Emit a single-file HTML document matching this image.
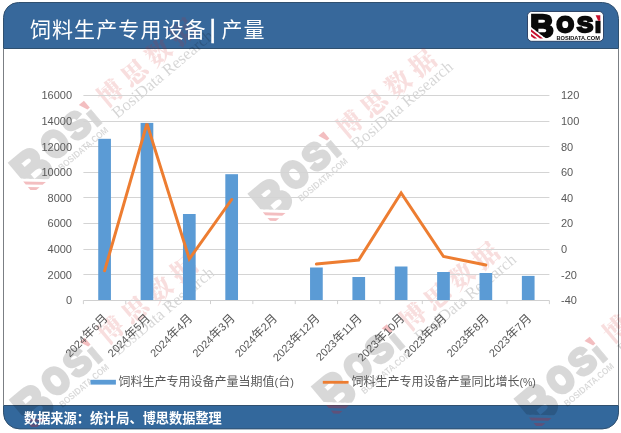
<!DOCTYPE html>
<html lang="zh-CN"><head><meta charset="utf-8"><title>饲料生产专用设备 | 产量</title>
<style>
html,body{margin:0;padding:0;background:#fff;}
body{width:621px;height:433px;overflow:hidden;font-family:"Liberation Sans","Noto Sans CJK SC",sans-serif;}
svg{display:block;}
text{font-family:"Liberation Sans","Noto Sans CJK SC",sans-serif;}
.ax{font-size:11px;fill:#595959;}
.cj{font-size:12px;}
.lg{font-size:12px;fill:#595959;}
.ser{font-family:"Liberation Serif","Noto Serif CJK SC",serif;}
</style></head><body>
<svg width="621" height="433" viewBox="0 0 621 433">
<rect x="0" y="0" width="621" height="433" fill="#ffffff"/>

<rect x="3.0" y="48.0" width="616.0" height="358.0" fill="#ffffff"/>
<line x1="3.5" y1="49.0" x2="3.5" y2="405.0" stroke="#7b7f84" stroke-width="1"/>
<line x1="618.5" y1="49.0" x2="618.5" y2="405.0" stroke="#7b7f84" stroke-width="1"/>
<path d="M3.5,48.5 L3.5,17.5 A15,15 0 0 1 18.5,2.5 L602.5,2.5 A16,16 0 0 1 618.5,18.5 L618.5,48.5 Z" fill="#37689b" stroke="#30506f" stroke-width="1"/>
<path d="M3.5,405.5 L618.5,405.5 L618.5,412.9 A16,16 0 0 1 602.5,428.9 L19.5,428.9 A16,16 0 0 1 3.5,412.9 Z" fill="#33689c" stroke="#30506f" stroke-width="1"/>
<g transform="translate(110,93) rotate(-40)">
<g transform="translate(-123.3,27.0) scale(1.42,1.62)"><g opacity="0.15"><clipPath id="bc1"><path d="M-1,-26 L24,-26 L24,1 L16.4,1 L15.1,0 L0,-11.7 L-1,-12.5 Z"/></clipPath><g clip-path="url(#bc1)"><text transform="translate(-0.872,-1.300) scale(0.3247,0.3140)" font-size="100" font-weight="bold" fill="#000000" stroke="#000000" stroke-width="8.14" stroke-linejoin="miter" >B</text></g><text transform="translate(25.703,-6.917) scale(0.2188,0.2217)" font-size="100" font-weight="bold" fill="#000000" stroke="#000000" stroke-width="12.71" stroke-linejoin="miter" >O</text><text transform="translate(46.003,-6.722) scale(0.2420,0.2274)" font-size="100" font-weight="bold" fill="#000000" stroke="#000000" stroke-width="10.23" stroke-linejoin="miter" >S</text><text transform="translate(62.657,-5.500) scale(0.3055,0.1584)" font-size="100" font-weight="bold" fill="#000000" stroke="#000000" stroke-width="1.72" stroke-linejoin="miter" >I</text><text x="25.4" y="1" font-size="5.7" font-weight="bold" fill="#000000" textLength="43.5" lengthAdjust="spacingAndGlyphs">BOSIDATA.COM</text></g><g opacity="0.27" fill="#d4141c"><path d="M0,-9.3 L0,-6.9 L8.9,0 L12,0 Z M0,-4.8 L0,-2.4 L3.1,0 L6.2,0 Z"/><path d="M64.6,-23.4 L69.3,-23.4 L69.3,-17.8 L67.2,-17.8 Z"/></g></g>
<text class="ser" x="-12.7" y="9.6" font-size="25.5" font-weight="900" fill="#d21f1f" opacity="0.14" letter-spacing="6.1">博思数据</text>
<text class="ser" x="-11" y="24.7" font-size="16.6" fill="#000000" opacity="0.16">BosiData Research</text>
</g>
<g transform="translate(349.6,123.9) rotate(-40)">
<g transform="translate(-123.3,27.0) scale(1.42,1.62)"><g opacity="0.15"><clipPath id="bc2"><path d="M-1,-26 L24,-26 L24,1 L16.4,1 L15.1,0 L0,-11.7 L-1,-12.5 Z"/></clipPath><g clip-path="url(#bc2)"><text transform="translate(-0.872,-1.300) scale(0.3247,0.3140)" font-size="100" font-weight="bold" fill="#000000" stroke="#000000" stroke-width="8.14" stroke-linejoin="miter" >B</text></g><text transform="translate(25.703,-6.917) scale(0.2188,0.2217)" font-size="100" font-weight="bold" fill="#000000" stroke="#000000" stroke-width="12.71" stroke-linejoin="miter" >O</text><text transform="translate(46.003,-6.722) scale(0.2420,0.2274)" font-size="100" font-weight="bold" fill="#000000" stroke="#000000" stroke-width="10.23" stroke-linejoin="miter" >S</text><text transform="translate(62.657,-5.500) scale(0.3055,0.1584)" font-size="100" font-weight="bold" fill="#000000" stroke="#000000" stroke-width="1.72" stroke-linejoin="miter" >I</text><text x="25.4" y="1" font-size="5.7" font-weight="bold" fill="#000000" textLength="43.5" lengthAdjust="spacingAndGlyphs">BOSIDATA.COM</text></g><g opacity="0.27" fill="#d4141c"><path d="M0,-9.3 L0,-6.9 L8.9,0 L12,0 Z M0,-4.8 L0,-2.4 L3.1,0 L6.2,0 Z"/><path d="M64.6,-23.4 L69.3,-23.4 L69.3,-17.8 L67.2,-17.8 Z"/></g></g>
<text class="ser" x="-12.7" y="9.6" font-size="25.5" font-weight="900" fill="#d21f1f" opacity="0.14" letter-spacing="6.1">博思数据</text>
<text class="ser" x="-11" y="24.7" font-size="16.6" fill="#000000" opacity="0.16">BosiData Research</text>
</g>
<g transform="translate(110.8,330) rotate(-40)">
<g transform="translate(-123.3,27.0) scale(1.42,1.62)"><g opacity="0.15"><clipPath id="bc3"><path d="M-1,-26 L24,-26 L24,1 L16.4,1 L15.1,0 L0,-11.7 L-1,-12.5 Z"/></clipPath><g clip-path="url(#bc3)"><text transform="translate(-0.872,-1.300) scale(0.3247,0.3140)" font-size="100" font-weight="bold" fill="#000000" stroke="#000000" stroke-width="8.14" stroke-linejoin="miter" >B</text></g><text transform="translate(25.703,-6.917) scale(0.2188,0.2217)" font-size="100" font-weight="bold" fill="#000000" stroke="#000000" stroke-width="12.71" stroke-linejoin="miter" >O</text><text transform="translate(46.003,-6.722) scale(0.2420,0.2274)" font-size="100" font-weight="bold" fill="#000000" stroke="#000000" stroke-width="10.23" stroke-linejoin="miter" >S</text><text transform="translate(62.657,-5.500) scale(0.3055,0.1584)" font-size="100" font-weight="bold" fill="#000000" stroke="#000000" stroke-width="1.72" stroke-linejoin="miter" >I</text><text x="25.4" y="1" font-size="5.7" font-weight="bold" fill="#000000" textLength="43.5" lengthAdjust="spacingAndGlyphs">BOSIDATA.COM</text></g><g opacity="0.27" fill="#d4141c"><path d="M0,-9.3 L0,-6.9 L8.9,0 L12,0 Z M0,-4.8 L0,-2.4 L3.1,0 L6.2,0 Z"/><path d="M64.6,-23.4 L69.3,-23.4 L69.3,-17.8 L67.2,-17.8 Z"/></g></g>
<text class="ser" x="-12.7" y="9.6" font-size="25.5" font-weight="900" fill="#d21f1f" opacity="0.14" letter-spacing="6.1">博思数据</text>
<text class="ser" x="-11" y="24.7" font-size="16.6" fill="#000000" opacity="0.16">BosiData Research</text>
</g>
<g transform="translate(412.9,316.6) rotate(-40)">
<g transform="translate(-123.3,27.0) scale(1.42,1.62)"><g opacity="0.15"><clipPath id="bc4"><path d="M-1,-26 L24,-26 L24,1 L16.4,1 L15.1,0 L0,-11.7 L-1,-12.5 Z"/></clipPath><g clip-path="url(#bc4)"><text transform="translate(-0.872,-1.300) scale(0.3247,0.3140)" font-size="100" font-weight="bold" fill="#000000" stroke="#000000" stroke-width="8.14" stroke-linejoin="miter" >B</text></g><text transform="translate(25.703,-6.917) scale(0.2188,0.2217)" font-size="100" font-weight="bold" fill="#000000" stroke="#000000" stroke-width="12.71" stroke-linejoin="miter" >O</text><text transform="translate(46.003,-6.722) scale(0.2420,0.2274)" font-size="100" font-weight="bold" fill="#000000" stroke="#000000" stroke-width="10.23" stroke-linejoin="miter" >S</text><text transform="translate(62.657,-5.500) scale(0.3055,0.1584)" font-size="100" font-weight="bold" fill="#000000" stroke="#000000" stroke-width="1.72" stroke-linejoin="miter" >I</text><text x="25.4" y="1" font-size="5.7" font-weight="bold" fill="#000000" textLength="43.5" lengthAdjust="spacingAndGlyphs">BOSIDATA.COM</text></g><g opacity="0.27" fill="#d4141c"><path d="M0,-9.3 L0,-6.9 L8.9,0 L12,0 Z M0,-4.8 L0,-2.4 L3.1,0 L6.2,0 Z"/><path d="M64.6,-23.4 L69.3,-23.4 L69.3,-17.8 L67.2,-17.8 Z"/></g></g>
<text class="ser" x="-12.7" y="9.6" font-size="25.5" font-weight="900" fill="#d21f1f" opacity="0.14" letter-spacing="6.1">博思数据</text>
<text class="ser" x="-11" y="24.7" font-size="16.6" fill="#000000" opacity="0.16">BosiData Research</text>
</g>
<g transform="translate(615.7,329) rotate(-40)">
<g transform="translate(-123.3,27.0) scale(1.42,1.62)"><g opacity="0.15"><clipPath id="bc5"><path d="M-1,-26 L24,-26 L24,1 L16.4,1 L15.1,0 L0,-11.7 L-1,-12.5 Z"/></clipPath><g clip-path="url(#bc5)"><text transform="translate(-0.872,-1.300) scale(0.3247,0.3140)" font-size="100" font-weight="bold" fill="#000000" stroke="#000000" stroke-width="8.14" stroke-linejoin="miter" >B</text></g><text transform="translate(25.703,-6.917) scale(0.2188,0.2217)" font-size="100" font-weight="bold" fill="#000000" stroke="#000000" stroke-width="12.71" stroke-linejoin="miter" >O</text><text transform="translate(46.003,-6.722) scale(0.2420,0.2274)" font-size="100" font-weight="bold" fill="#000000" stroke="#000000" stroke-width="10.23" stroke-linejoin="miter" >S</text><text transform="translate(62.657,-5.500) scale(0.3055,0.1584)" font-size="100" font-weight="bold" fill="#000000" stroke="#000000" stroke-width="1.72" stroke-linejoin="miter" >I</text><text x="25.4" y="1" font-size="5.7" font-weight="bold" fill="#000000" textLength="43.5" lengthAdjust="spacingAndGlyphs">BOSIDATA.COM</text></g><g opacity="0.27" fill="#d4141c"><path d="M0,-9.3 L0,-6.9 L8.9,0 L12,0 Z M0,-4.8 L0,-2.4 L3.1,0 L6.2,0 Z"/><path d="M64.6,-23.4 L69.3,-23.4 L69.3,-17.8 L67.2,-17.8 Z"/></g></g>
<text class="ser" x="-12.7" y="9.6" font-size="25.5" font-weight="900" fill="#d21f1f" opacity="0.14" letter-spacing="6.1">博思数据</text>
<text class="ser" x="-11" y="24.7" font-size="16.6" fill="#000000" opacity="0.16">BosiData Research</text>
</g>
<text x="29.9" y="37" font-size="21" fill="#ffffff" letter-spacing="1.1">饲料生产专用设备</text>
<text x="209.6" y="37.6" font-size="25" fill="#ffffff" stroke="#ffffff" stroke-width="0.5">|</text>
<text x="221.5" y="37" font-size="21" fill="#ffffff" letter-spacing="1.1">产量</text>
<text x="24" y="423.3" font-size="13.2" font-weight="bold" fill="#ffffff">数据来源：统计局、博思数据整理</text>
<g transform="translate(531,38.6)"><rect x="-3.5" y="-27.1" width="76" height="29.8" rx="4.2" ry="4.2" fill="#ffffff" stroke="#22395c" stroke-width="0.9"/><g opacity="1"><clipPath id="bc6"><path d="M-1,-26 L24,-26 L24,1 L16.4,1 L15.1,0 L0,-11.7 L-1,-12.5 Z"/></clipPath><g clip-path="url(#bc6)"><text transform="translate(-0.872,-1.300) scale(0.3247,0.3140)" font-size="100" font-weight="bold" fill="#0a0a0a" stroke="#0a0a0a" stroke-width="8.14" stroke-linejoin="miter" >B</text></g><text transform="translate(25.703,-6.917) scale(0.2188,0.2217)" font-size="100" font-weight="bold" fill="#0a0a0a" stroke="#0a0a0a" stroke-width="12.71" stroke-linejoin="miter" >O</text><text transform="translate(46.003,-6.722) scale(0.2420,0.2274)" font-size="100" font-weight="bold" fill="#0a0a0a" stroke="#0a0a0a" stroke-width="10.23" stroke-linejoin="miter" >S</text><text transform="translate(62.657,-5.500) scale(0.3055,0.1584)" font-size="100" font-weight="bold" fill="#0a0a0a" stroke="#0a0a0a" stroke-width="1.72" stroke-linejoin="miter" >I</text><text x="25.4" y="1" font-size="5.7" font-weight="bold" fill="#0a0a0a" textLength="43.5" lengthAdjust="spacingAndGlyphs">BOSIDATA.COM</text></g><g opacity="1" fill="#c8102e"><path d="M0,-9.3 L0,-6.9 L8.9,0 L12,0 Z M0,-4.8 L0,-2.4 L3.1,0 L6.2,0 Z"/><path d="M64.6,-23.4 L69.3,-23.4 L69.3,-17.8 L67.2,-17.8 Z"/></g></g>
<line x1="83.4" y1="274.50" x2="549.4" y2="274.50" stroke="#d4d4d4" stroke-width="1"/>
<line x1="83.4" y1="249.50" x2="549.4" y2="249.50" stroke="#d4d4d4" stroke-width="1"/>
<line x1="83.4" y1="223.50" x2="549.4" y2="223.50" stroke="#d4d4d4" stroke-width="1"/>
<line x1="83.4" y1="197.50" x2="549.4" y2="197.50" stroke="#d4d4d4" stroke-width="1"/>
<line x1="83.4" y1="172.50" x2="549.4" y2="172.50" stroke="#d4d4d4" stroke-width="1"/>
<line x1="83.4" y1="146.50" x2="549.4" y2="146.50" stroke="#d4d4d4" stroke-width="1"/>
<line x1="83.4" y1="121.50" x2="549.4" y2="121.50" stroke="#d4d4d4" stroke-width="1"/>
<line x1="83.4" y1="95.50" x2="549.4" y2="95.50" stroke="#d4d4d4" stroke-width="1"/>
<rect x="98.23" y="138.8" width="12.7" height="161.20" fill="#5b9bd5"/>
<rect x="140.60" y="122.9" width="12.7" height="177.10" fill="#5b9bd5"/>
<rect x="182.96" y="214.0" width="12.7" height="86.00" fill="#5b9bd5"/>
<rect x="225.32" y="174.2" width="12.7" height="125.80" fill="#5b9bd5"/>
<rect x="310.05" y="267.5" width="12.7" height="32.50" fill="#5b9bd5"/>
<rect x="352.41" y="277.0" width="12.7" height="23.00" fill="#5b9bd5"/>
<rect x="394.78" y="266.5" width="12.7" height="33.50" fill="#5b9bd5"/>
<rect x="437.14" y="272.0" width="12.7" height="28.00" fill="#5b9bd5"/>
<rect x="479.50" y="273.0" width="12.7" height="27.00" fill="#5b9bd5"/>
<rect x="521.87" y="275.9" width="12.7" height="24.10" fill="#5b9bd5"/>
<line x1="83.4" y1="300.5" x2="549.4" y2="300.5" stroke="#d0d0d0" stroke-width="1"/>
<line x1="83.40" y1="300.5" x2="83.40" y2="304.1" stroke="#d0d0d0" stroke-width="1"/>
<line x1="125.76" y1="300.5" x2="125.76" y2="304.1" stroke="#d0d0d0" stroke-width="1"/>
<line x1="168.13" y1="300.5" x2="168.13" y2="304.1" stroke="#d0d0d0" stroke-width="1"/>
<line x1="210.49" y1="300.5" x2="210.49" y2="304.1" stroke="#d0d0d0" stroke-width="1"/>
<line x1="252.85" y1="300.5" x2="252.85" y2="304.1" stroke="#d0d0d0" stroke-width="1"/>
<line x1="295.22" y1="300.5" x2="295.22" y2="304.1" stroke="#d0d0d0" stroke-width="1"/>
<line x1="337.58" y1="300.5" x2="337.58" y2="304.1" stroke="#d0d0d0" stroke-width="1"/>
<line x1="379.95" y1="300.5" x2="379.95" y2="304.1" stroke="#d0d0d0" stroke-width="1"/>
<line x1="422.31" y1="300.5" x2="422.31" y2="304.1" stroke="#d0d0d0" stroke-width="1"/>
<line x1="464.67" y1="300.5" x2="464.67" y2="304.1" stroke="#d0d0d0" stroke-width="1"/>
<line x1="507.04" y1="300.5" x2="507.04" y2="304.1" stroke="#d0d0d0" stroke-width="1"/>
<line x1="549.40" y1="300.5" x2="549.40" y2="304.1" stroke="#d0d0d0" stroke-width="1"/>
<polyline points="104.58,270.80 146.95,123.60 189.31,259.00 231.67,199.50" fill="none" stroke="#ed7d31" stroke-width="3" stroke-linejoin="miter" stroke-miterlimit="3" stroke-linecap="round"/>
<polyline points="316.40,264.00 358.76,260.00 401.13,193.00 443.49,256.50 485.85,265.00" fill="none" stroke="#ed7d31" stroke-width="3" stroke-linejoin="miter" stroke-miterlimit="3" stroke-linecap="round"/>
<text class="ax" x="72" y="304.30" text-anchor="end">0</text>
<text class="ax" x="72" y="278.68" text-anchor="end">2000</text>
<text class="ax" x="72" y="253.05" text-anchor="end">4000</text>
<text class="ax" x="72" y="227.43" text-anchor="end">6000</text>
<text class="ax" x="72" y="201.80" text-anchor="end">8000</text>
<text class="ax" x="72" y="176.18" text-anchor="end">10000</text>
<text class="ax" x="72" y="150.55" text-anchor="end">12000</text>
<text class="ax" x="72" y="124.92" text-anchor="end">14000</text>
<text class="ax" x="72" y="99.30" text-anchor="end">16000</text>
<text class="ax" x="561" y="304.30">-40</text>
<text class="ax" x="561" y="278.68">-20</text>
<text class="ax" x="561" y="253.05">0</text>
<text class="ax" x="561" y="227.43">20</text>
<text class="ax" x="561" y="201.80">40</text>
<text class="ax" x="561" y="176.18">60</text>
<text class="ax" x="561" y="150.55">80</text>
<text class="ax" x="561" y="124.92">100</text>
<text class="ax" x="561" y="99.30">120</text>
<text class="ax" text-anchor="end" transform="translate(108.58,319) rotate(-45)">2024<tspan class="cj">年</tspan>6<tspan class="cj">月</tspan></text>
<text class="ax" text-anchor="end" transform="translate(150.95,319) rotate(-45)">2024<tspan class="cj">年</tspan>5<tspan class="cj">月</tspan></text>
<text class="ax" text-anchor="end" transform="translate(193.31,319) rotate(-45)">2024<tspan class="cj">年</tspan>4<tspan class="cj">月</tspan></text>
<text class="ax" text-anchor="end" transform="translate(235.67,319) rotate(-45)">2024<tspan class="cj">年</tspan>3<tspan class="cj">月</tspan></text>
<text class="ax" text-anchor="end" transform="translate(278.04,319) rotate(-45)">2024<tspan class="cj">年</tspan>2<tspan class="cj">月</tspan></text>
<text class="ax" text-anchor="end" transform="translate(320.40,319) rotate(-45)">2023<tspan class="cj">年</tspan>12<tspan class="cj">月</tspan></text>
<text class="ax" text-anchor="end" transform="translate(362.76,319) rotate(-45)">2023<tspan class="cj">年</tspan>11<tspan class="cj">月</tspan></text>
<text class="ax" text-anchor="end" transform="translate(405.13,319) rotate(-45)">2023<tspan class="cj">年</tspan>10<tspan class="cj">月</tspan></text>
<text class="ax" text-anchor="end" transform="translate(447.49,319) rotate(-45)">2023<tspan class="cj">年</tspan>9<tspan class="cj">月</tspan></text>
<text class="ax" text-anchor="end" transform="translate(489.85,319) rotate(-45)">2023<tspan class="cj">年</tspan>8<tspan class="cj">月</tspan></text>
<text class="ax" text-anchor="end" transform="translate(532.22,319) rotate(-45)">2023<tspan class="cj">年</tspan>7<tspan class="cj">月</tspan></text>
<rect x="90.5" y="379.8" width="25.4" height="4.8" fill="#5b9bd5"/>
<text class="lg" x="118.6" y="386.4">饲料生产专用设备产量当期值<tspan font-size="11">(</tspan>台<tspan font-size="11">)</tspan></text>
<line x1="322.8" y1="382.3" x2="348.6" y2="382.3" stroke="#ed7d31" stroke-width="2.8" stroke-linecap="butt"/>
<text class="lg" x="351.4" y="386.4">饲料生产专用设备产量同比增长<tspan font-size="10.6">(%)</tspan></text>
</svg></body></html>
